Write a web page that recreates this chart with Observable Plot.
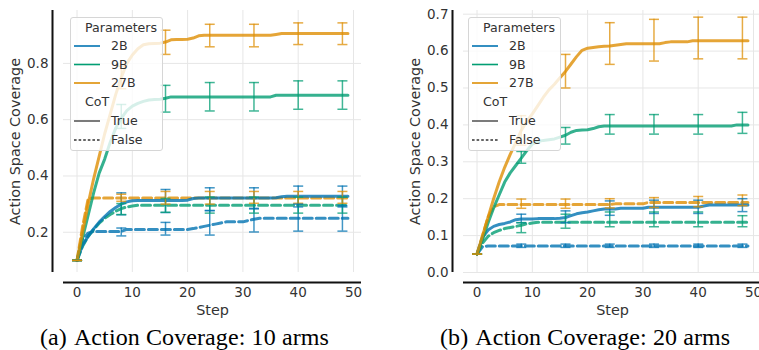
<!DOCTYPE html>
<html>
<head>
<meta charset="utf-8">
<script src="https://cdn.jsdelivr.net/npm/d3@7"></script>
<script src="https://cdn.jsdelivr.net/npm/@observablehq/plot@0.6"></script>
<style>
  html, body { margin: 0; padding: 0; background: #fff; }
  #wrap { position: relative; width: 759px; height: 350px; overflow: hidden; }
  .panel { position: absolute; top: 0; width: 400px; height: 350px; }
  .panel svg.chart { position: absolute; left: 0; top: 0; }
  .legend { position: absolute; top: 17px; width: 93px; height: 134px; background: rgba(255,255,255,0.8);
            border: 1px solid #d6d6d6; border-radius: 3px; box-sizing: border-box; }
  .caption { position: absolute; top: 325px; white-space: nowrap; font-family: "Liberation Serif", serif;
             font-size: 24px; line-height: 24px; color: #000; letter-spacing: 0.1px; }
  .caption .tag { margin-right: 7px; }
</style>
</head>
<body>
<div id="wrap"></div>
<script>
// ---------- data ----------
const models = ["2B", "9B", "27B"];
const modelColors = ["#0173b2", "#029e73", "#de8f05"];
const cotLevels = ["True", "False"];
const xTicks = [0, 10, 20, 30, 40, 50];
const errSteps = [0, 8, 16, 24, 32, 40, 48];

// (a) 10 arms — mean coverage per step (0..49)
const a_2B_T = [0.10,0.155,0.185,0.212,0.236,0.256,0.274,0.288,0.300,0.308,0.312,0.313,0.313,0.313,0.313,0.313,0.313,0.313,0.313,0.313,0.314,0.320,0.322,0.322,0.322,0.322,0.322,0.322,0.322,0.322,0.322,0.322,0.322,0.322,0.322,0.322,0.323,0.326,0.328,0.328,0.328,0.328,0.328,0.328,0.328,0.328,0.328,0.328,0.328,0.328];
const a_9B_T = [0.10,0.18,0.26,0.34,0.41,0.46,0.52,0.57,0.605,0.632,0.648,0.658,0.665,0.670,0.672,0.673,0.676,0.681,0.681,0.681,0.681,0.681,0.681,0.681,0.681,0.681,0.681,0.681,0.681,0.681,0.681,0.681,0.681,0.681,0.681,0.681,0.687,0.687,0.687,0.687,0.687,0.687,0.687,0.687,0.687,0.687,0.687,0.687,0.687,0.687];
const a_27B_T = [0.10,0.20,0.30,0.39,0.47,0.55,0.62,0.69,0.75,0.80,0.83,0.852,0.866,0.870,0.871,0.872,0.876,0.884,0.885,0.885,0.886,0.890,0.898,0.900,0.900,0.900,0.900,0.900,0.900,0.900,0.900,0.900,0.900,0.900,0.900,0.900,0.903,0.906,0.906,0.906,0.906,0.906,0.906,0.906,0.906,0.906,0.906,0.906,0.906,0.906];
const a_2B_F = [0.10,0.175,0.197,0.203,0.203,0.203,0.203,0.203,0.203,0.210,0.210,0.210,0.210,0.210,0.210,0.210,0.210,0.210,0.210,0.210,0.210,0.213,0.217,0.221,0.225,0.229,0.233,0.237,0.237,0.237,0.237,0.242,0.246,0.250,0.250,0.250,0.250,0.250,0.250,0.250,0.250,0.250,0.250,0.250,0.250,0.250,0.250,0.250,0.250,0.250];
const a_9B_F = [0.10,0.15,0.185,0.21,0.232,0.25,0.263,0.275,0.284,0.29,0.293,0.296,0.296,0.296,0.296,0.296,0.296,0.296,0.296,0.296,0.296,0.296,0.296,0.296,0.296,0.296,0.296,0.296,0.296,0.296,0.296,0.296,0.296,0.296,0.296,0.296,0.296,0.296,0.296,0.296,0.296,0.296,0.296,0.296,0.296,0.296,0.296,0.296,0.296,0.296];
const a_27B_F = [0.10,0.22,0.318,0.322,0.322,0.322,0.322,0.322,0.322,0.322,0.322,0.322,0.322,0.322,0.322,0.322,0.322,0.322,0.322,0.322,0.322,0.322,0.322,0.322,0.322,0.322,0.322,0.322,0.322,0.322,0.322,0.322,0.322,0.322,0.322,0.322,0.322,0.322,0.322,0.322,0.322,0.322,0.322,0.322,0.322,0.322,0.322,0.322,0.322,0.322];
// (a) error bars at errSteps: [low, high]
const a_err_2B_T = [[0.10,0.10],[0.262,0.340],[0.270,0.352],[0.277,0.358],[0.283,0.358],[0.290,0.364],[0.290,0.364]];
const a_err_9B_T = [[0.10,0.10],[0.569,0.654],[0.627,0.722],[0.631,0.732],[0.631,0.732],[0.637,0.738],[0.637,0.738]];
const a_err_27B_T = [[0.10,0.10],[0.710,0.790],[0.832,0.918],[0.859,0.939],[0.859,0.939],[0.867,0.944],[0.867,0.944]];
const a_err_2B_F = [[0.10,0.10],[0.187,0.215],[0.190,0.235],[0.190,0.277],[0.201,0.285],[0.204,0.300],[0.204,0.295]];
const a_err_9B_F = [[0.10,0.10],[0.263,0.302],[0.271,0.320],[0.268,0.325],[0.268,0.325],[0.268,0.325],[0.268,0.325]];
const a_err_27B_F = [[0.10,0.10],[0.310,0.335],[0.300,0.345],[0.300,0.345],[0.303,0.345],[0.303,0.345],[0.303,0.345]];
const a_yTicks = [0.2, 0.4, 0.6, 0.8];
const a_yDomain = [0.057, 0.988];

// (b) 20 arms
const b_2B_T = [0.05,0.095,0.115,0.125,0.130,0.133,0.137,0.143,0.145,0.145,0.145,0.146,0.146,0.146,0.146,0.147,0.149,0.154,0.159,0.162,0.164,0.167,0.170,0.172,0.172,0.172,0.174,0.174,0.174,0.174,0.174,0.177,0.177,0.177,0.177,0.177,0.177,0.177,0.177,0.177,0.177,0.180,0.183,0.183,0.183,0.183,0.183,0.183,0.183,0.183];
const b_9B_T = [0.05,0.09,0.135,0.175,0.21,0.245,0.27,0.29,0.31,0.33,0.348,0.355,0.358,0.36,0.362,0.367,0.372,0.38,0.385,0.386,0.387,0.39,0.395,0.397,0.397,0.397,0.397,0.397,0.397,0.397,0.397,0.397,0.397,0.397,0.397,0.397,0.397,0.397,0.397,0.397,0.397,0.397,0.397,0.397,0.397,0.397,0.397,0.40,0.40,0.40];
const b_27B_T = [0.05,0.10,0.15,0.20,0.245,0.285,0.32,0.352,0.385,0.41,0.43,0.452,0.475,0.495,0.51,0.528,0.545,0.565,0.585,0.602,0.608,0.61,0.612,0.613,0.614,0.616,0.618,0.62,0.62,0.62,0.62,0.62,0.62,0.62,0.623,0.625,0.625,0.625,0.625,0.628,0.628,0.628,0.628,0.628,0.628,0.628,0.628,0.628,0.628,0.628];
const b_2B_F = [0.05,0.07,0.072,0.072,0.072,0.072,0.072,0.072,0.072,0.072,0.072,0.072,0.072,0.072,0.072,0.072,0.072,0.072,0.072,0.072,0.072,0.072,0.072,0.072,0.072,0.072,0.072,0.072,0.072,0.072,0.072,0.072,0.072,0.072,0.072,0.072,0.072,0.072,0.072,0.072,0.072,0.072,0.072,0.072,0.072,0.072,0.072,0.072,0.072,0.072];
const b_9B_F = [0.05,0.08,0.098,0.108,0.114,0.119,0.122,0.125,0.128,0.132,0.134,0.136,0.136,0.136,0.136,0.136,0.136,0.136,0.136,0.136,0.136,0.136,0.136,0.136,0.136,0.136,0.136,0.136,0.136,0.136,0.136,0.136,0.136,0.136,0.136,0.136,0.136,0.136,0.136,0.136,0.136,0.136,0.136,0.136,0.136,0.136,0.136,0.136,0.136,0.136];
const b_27B_F = [0.05,0.10,0.15,0.178,0.184,0.184,0.184,0.184,0.184,0.184,0.184,0.184,0.184,0.184,0.184,0.184,0.184,0.184,0.184,0.184,0.184,0.184,0.184,0.184,0.184,0.186,0.186,0.186,0.186,0.186,0.186,0.19,0.19,0.19,0.19,0.19,0.19,0.19,0.19,0.19,0.19,0.19,0.19,0.19,0.19,0.19,0.19,0.19,0.19,0.19];
const b_err_2B_T = [[0.05,0.05],[0.135,0.158],[0.135,0.167],[0.155,0.194],[0.160,0.196],[0.160,0.196],[0.165,0.200]];
const b_err_9B_T = [[0.05,0.05],[0.296,0.328],[0.348,0.393],[0.375,0.428],[0.375,0.428],[0.375,0.428],[0.377,0.434]];
const b_err_27B_T = [[0.05,0.05],[0.345,0.425],[0.500,0.591],[0.564,0.677],[0.573,0.686],[0.579,0.692],[0.579,0.692]];
const b_err_2B_F = [[0.05,0.05],[0.068,0.077],[0.068,0.077],[0.068,0.077],[0.068,0.077],[0.068,0.077],[0.068,0.077]];
const b_err_9B_F = [[0.05,0.05],[0.108,0.135],[0.120,0.158],[0.124,0.164],[0.124,0.164],[0.124,0.164],[0.124,0.154]];
const b_err_27B_F = [[0.05,0.05],[0.174,0.199],[0.174,0.199],[0.175,0.200],[0.176,0.203],[0.178,0.206],[0.181,0.210]];
const b_yTicks = [0.0, 0.1, 0.2, 0.3, 0.4, 0.5, 0.6, 0.7];
const b_yDomain = [0.0, 0.71];

const xDomain = [-2.45, 51.45];
const yLabel = "Action Space Coverage";
const xLabel = "Step";
const captions = [["(a)", "Action Coverage: 10 arms"], ["(b)", "Action Coverage: 20 arms"]];

// ---------- build ----------
function tidy(seriesMap, errMap) {
  const lines = [], errs = [];
  for (const m of models) for (const c of cotLevels) {
    const vals = seriesMap[m + "_" + c];
    vals.forEach((v, i) => lines.push({step: i, v, model: m, cot: c, key: m + c}));
    errMap[m + "_" + c].forEach(([lo, hi], j) => errs.push({step: errSteps[j], lo, hi, model: m, cot: c}));
  }
  return {lines, errs};
}

const cap = { draw(ctx) { ctx.moveTo(-5, 0); ctx.lineTo(5, 0); } };

function makeChart(d, yDomain, yTicks) {
  return Plot.plot({
    width: 400, height: 320,
    marginLeft: 63, marginRight: 39, marginTop: 10, marginBottom: 48,
    style: {fontFamily: "DejaVu Sans", fontSize: "13.5px", color: "#333", background: "transparent", overflow: "visible"},
    x: {domain: xDomain, label: null},
    y: {domain: yDomain, label: null},
    color: {domain: models, range: modelColors},
    marks: [
      Plot.gridX(xTicks, {stroke: "#e6e6e6", strokeOpacity: 1, strokeWidth: 1}),
      Plot.gridY(yTicks, {stroke: "#e6e6e6", strokeOpacity: 1, strokeWidth: 1}),
      Plot.axisX(xTicks, {tickSize: 0, tickPadding: 15, fontSize: 13.5, tickFormat: d => String(d)}),
      Plot.axisY(yTicks, {tickSize: 0, tickPadding: 15, fontSize: 13.5, tickFormat: d3.format(".1f")}),
      Plot.ruleX([xDomain[0]], {dx: -11, stroke: "#111", strokeWidth: 2}),
      Plot.ruleY([yDomain[0]], {dy: 10, stroke: "#111", strokeWidth: 2}),
      Plot.line(d.lines.filter(r => r.cot === "False"), {x: "step", y: "v", z: "key", stroke: "model",
        strokeWidth: 3, strokeOpacity: 0.8, strokeDasharray: "9,4", curve: "linear"}),
      Plot.line(d.lines.filter(r => r.cot === "True"), {x: "step", y: "v", z: "key", stroke: "model",
        strokeWidth: 3, strokeOpacity: 0.8, curve: "linear"}),
      Plot.ruleX(d.errs, {x: "step", y1: "lo", y2: "hi", stroke: "model", strokeWidth: 1.5, strokeOpacity: 0.75}),
      Plot.dot(d.errs, {x: "step", y: "lo", symbol: cap, fill: "none", stroke: "model", strokeWidth: 1.5, strokeOpacity: 0.75}),
      Plot.dot(d.errs, {x: "step", y: "hi", symbol: cap, fill: "none", stroke: "model", strokeWidth: 1.5, strokeOpacity: 0.75}),
      Plot.text([yLabel], {frameAnchor: "left", textAnchor: "middle", lineAnchor: "middle", rotate: -90, dx: -48, fontSize: 14.4, fill: "#333"}),
      Plot.text([xLabel], {frameAnchor: "bottom", textAnchor: "middle", lineAnchor: "middle", dy: 38, fontSize: 14.4, fill: "#333"})
    ]
  });
}

function makeLegend() {
  const svg = d3.create("svg").attr("width", 93).attr("height", 134)
    .style("position", "absolute").style("left", "-1px").style("top", "-1px")
    .attr("font-family", "DejaVu Sans").attr("font-size", 12.6).attr("fill", "#333");
  svg.append("text").attr("x", 15).attr("y", 11).attr("dy", "0.35em").text("Parameters");
  models.forEach((m, i) => {
    const y = 29 + i * 18.5;
    svg.append("line").attr("x1", 4).attr("x2", 30).attr("y1", y).attr("y2", y)
      .attr("stroke", modelColors[i]).attr("stroke-width", 1.6);
    svg.append("text").attr("x", 41).attr("y", y).attr("dy", "0.35em").text(m);
  });
  svg.append("text").attr("x", 15).attr("y", 85).attr("dy", "0.35em").text("CoT");
  cotLevels.forEach((c, i) => {
    const y = 104 + i * 19;
    svg.append("line").attr("x1", 4).attr("x2", 30).attr("y1", y).attr("y2", y)
      .attr("stroke", "#333").attr("stroke-width", 1.3).attr("stroke-dasharray", c === "False" ? "2.6,2" : null);
    svg.append("text").attr("x", 41).attr("y", y).attr("dy", "0.35em").text(c);
  });
  return svg.node();
}

const wrap = document.getElementById("wrap");
const panels = [
  {left: 0, legendLeft: 70, d: tidy(
    {"2B_True": a_2B_T, "9B_True": a_9B_T, "27B_True": a_27B_T, "2B_False": a_2B_F, "9B_False": a_9B_F, "27B_False": a_27B_F},
    {"2B_True": a_err_2B_T, "9B_True": a_err_9B_T, "27B_True": a_err_27B_T, "2B_False": a_err_2B_F, "9B_False": a_err_9B_F, "27B_False": a_err_27B_F}),
    yDomain: a_yDomain, yTicks: a_yTicks, caption: captions[0]},
  {left: 400, legendLeft: 68, d: tidy(
    {"2B_True": b_2B_T, "9B_True": b_9B_T, "27B_True": b_27B_T, "2B_False": b_2B_F, "9B_False": b_9B_F, "27B_False": b_27B_F},
    {"2B_True": b_err_2B_T, "9B_True": b_err_9B_T, "27B_True": b_err_27B_T, "2B_False": b_err_2B_F, "9B_False": b_err_9B_F, "27B_False": b_err_27B_F}),
    yDomain: b_yDomain, yTicks: b_yTicks, caption: captions[1]}
];
for (const p of panels) {
  const div = document.createElement("div");
  div.className = "panel";
  div.style.left = p.left + "px";
  const chart = makeChart(p.d, p.yDomain, p.yTicks);
  chart.classList.add("chart");
  div.appendChild(chart);
  const leg = document.createElement("div");
  leg.className = "legend";
  leg.style.left = p.legendLeft + "px";
  leg.appendChild(makeLegend());
  div.appendChild(leg);
  const cap = document.createElement("div");
  cap.className = "caption";
  cap.style.left = "40px";
  cap.innerHTML = `<span class="tag">${p.caption[0]}</span>${p.caption[1]}`;
  div.appendChild(cap);
  wrap.appendChild(div);
}
</script>
</body>
</html>
